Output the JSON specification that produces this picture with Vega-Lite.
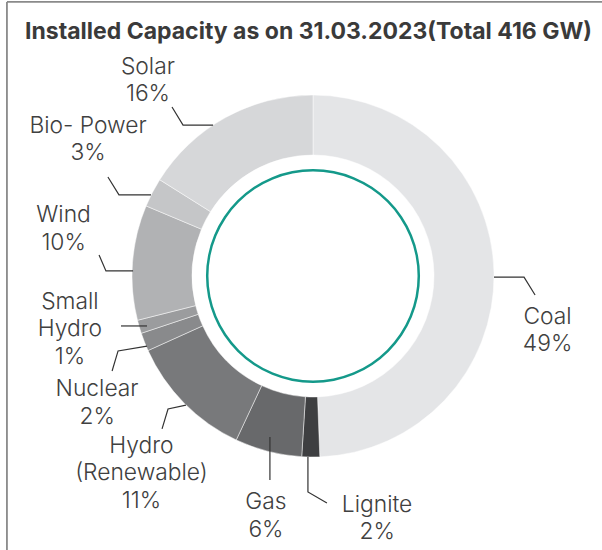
{
  "$schema": "https://vega.github.io/schema/vega-lite/v6.json",
  "width": 602,
  "height": 550,
  "autosize": {"type": "none"},
  "padding": 0,
  "background": "white",
  "config": {"view": {"stroke": null}, "font": "Inter"},
  "title": {
    "text": "Installed Capacity as on 31.03.2023(Total 416 GW)",
    "font": "Inter",
    "fontSize": 23,
    "fontWeight": "bold",
    "color": "#3a3a3a",
    "anchor": "middle",
    "frame": "group",
    "offset": 0,
    "baseline": "alphabetic",
    "dx": 7.5,
    "dy": 62
  },
  "datasets": {
    "capacity": [
      {"source": "Coal", "gw": 205.24, "order": 1},
      {"source": "Lignite", "gw": 6.62, "order": 2},
      {"source": "Gas", "gw": 24.82, "order": 3},
      {"source": "Hydro (Renewable)", "gw": 46.85, "order": 4},
      {"source": "Nuclear", "gw": 6.78, "order": 5},
      {"source": "Small Hydro", "gw": 4.94, "order": 6},
      {"source": "Wind", "gw": 42.63, "order": 7},
      {"source": "Bio- Power", "gw": 10.8, "order": 8},
      {"source": "Solar", "gw": 66.78, "order": 9}
    ],
    "labels": [
      {"source": "Coal", "label": "Coal\n49%", "x": 129.6, "y": -22.4},
      {"source": "Lignite", "label": "Lignite\n2%", "x": 35.4, "y": -126.5},
      {"source": "Gas", "label": "Gas\n6%", "x": -26.0, "y": -124.9},
      {"source": "Hydro (Renewable)", "label": "Hydro\n(Renewable)\n11%", "x": -94.8, "y": -93.9},
      {"source": "Nuclear", "label": "Nuclear\n2%", "x": -119.3, "y": -62.7},
      {"source": "Small Hydro", "label": "Small\nHydro\n1%", "x": -134.3, "y": -14.1},
      {"source": "Wind", "label": "Wind\n10%", "x": -137.8, "y": 33.7},
      {"source": "Bio- Power", "label": "Bio- Power\n3%", "x": -124.3, "y": 82.9},
      {"source": "Solar", "label": "Solar\n16%", "x": -91.2, "y": 115.5}
    ],
    "leaders": [
      {"source": "Solar", "i": 0, "x": -77.9, "y": 93.4},
      {"source": "Solar", "i": 1, "x": -71.8, "y": 83.4},
      {"source": "Solar", "i": 2, "x": -55.2, "y": 83.4},
      {"source": "Bio- Power", "i": 0, "x": -113.3, "y": 54.7},
      {"source": "Bio- Power", "i": 1, "x": -107.2, "y": 44.8},
      {"source": "Bio- Power", "i": 2, "x": -89.5, "y": 44.8},
      {"source": "Wind", "i": 0, "x": -118.2, "y": 11.6},
      {"source": "Wind", "i": 1, "x": -114.4, "y": 2.8},
      {"source": "Wind", "i": 2, "x": -99.4, "y": 2.8},
      {"source": "Small Hydro", "i": 0, "x": -106.1, "y": -27.6},
      {"source": "Small Hydro", "i": 1, "x": -91.7, "y": -27.6},
      {"source": "Nuclear", "i": 0, "x": -111.0, "y": -52.5},
      {"source": "Nuclear", "i": 1, "x": -107.7, "y": -41.4},
      {"source": "Nuclear", "i": 2, "x": -91.7, "y": -38.7},
      {"source": "Hydro (Renewable)", "i": 0, "x": -83.4, "y": -84.5},
      {"source": "Hydro (Renewable)", "i": 1, "x": -80.1, "y": -73.5},
      {"source": "Hydro (Renewable)", "i": 2, "x": -70.2, "y": -71.3},
      {"source": "Gas", "i": 0, "x": -23.8, "y": -112.7},
      {"source": "Gas", "i": 1, "x": -23.8, "y": -89.0},
      {"source": "Lignite", "i": 0, "x": 7.7, "y": -125.4},
      {"source": "Lignite", "i": 1, "x": -2.8, "y": -119.3},
      {"source": "Lignite", "i": 2, "x": -2.8, "y": -100.0},
      {"source": "Coal", "i": 0, "x": 100.0, "y": -0.6},
      {"source": "Coal", "i": 1, "x": 116.6, "y": -0.6},
      {"source": "Coal", "i": 2, "x": 122.7, "y": -10.5}
    ],
    "frame": [
      {"side": "left", "x": -169.1, "x2": -169.1, "y": 151.4, "y2": -151.38},
      {"side": "top", "x": -169.1, "x2": 159.67, "y": 151.4, "y2": 151.4}
    ]
  },
  "layer": [
    {
      "data": {"name": "frame"},
      "mark": {"type": "rule", "color": "#8a8a8a", "strokeWidth": 1.8},
      "encoding": {
        "x": {"field": "x", "type": "quantitative", "scale": {"domain": [-172.93, 159.67], "nice": false, "zero": false}, "axis": null},
        "x2": {"field": "x2"},
        "y": {"field": "y", "type": "quantitative", "scale": {"domain": [-151.38, 152.49], "nice": false, "zero": false}, "axis": null},
        "y2": {"field": "y2"}
      }
    },
    {
      "data": {"name": "capacity"},
      "mark": {"type": "arc", "outerRadius": 181, "innerRadius": 121, "stroke": "#ffffff", "strokeWidth": 0.8, "strokeOpacity": 0.6},
      "encoding": {
        "theta": {"field": "gw", "type": "quantitative", "stack": true},
        "order": {"field": "order", "type": "quantitative"},
        "color": {
          "field": "source",
          "type": "nominal",
          "legend": null,
          "scale": {
            "domain": ["Coal", "Lignite", "Gas", "Hydro (Renewable)", "Nuclear", "Small Hydro", "Wind", "Bio- Power", "Solar"],
            "range": ["#e4e5e7", "#3e3f41", "#68696b", "#78797b", "#898a8c", "#9b9c9e", "#b1b2b4", "#c5c6c8", "#d6d7d9"]
          }
        },
        "x": {"datum": 0, "type": "quantitative", "scale": {"domain": [-172.93, 159.67], "nice": false, "zero": false}, "axis": null},
        "y": {"datum": 0, "type": "quantitative", "scale": {"domain": [-151.38, 152.49], "nice": false, "zero": false}, "axis": null}
      }
    },
    {
      "data": {"values": [{"ring": "inner"}]},
      "mark": {"type": "arc", "theta": 0, "theta2": 6.2832, "outerRadius": 107, "innerRadius": 104.5, "fill": "#14998a"},
      "encoding": {
        "x": {"datum": 0, "type": "quantitative", "scale": {"domain": [-172.93, 159.67], "nice": false, "zero": false}, "axis": null},
        "y": {"datum": 0, "type": "quantitative", "scale": {"domain": [-151.38, 152.49], "nice": false, "zero": false}, "axis": null}
      }
    },
    {
      "data": {"name": "leaders"},
      "mark": {"type": "line", "color": "#333333", "strokeWidth": 1.2},
      "encoding": {
        "x": {"field": "x", "type": "quantitative", "scale": {"domain": [-172.93, 159.67], "nice": false, "zero": false}, "axis": null},
        "y": {"field": "y", "type": "quantitative", "scale": {"domain": [-151.38, 152.49], "nice": false, "zero": false}, "axis": null},
        "detail": {"field": "source", "type": "nominal"},
        "order": {"field": "i", "type": "quantitative"}
      }
    },
    {
      "data": {"name": "labels"},
      "mark": {"type": "text", "align": "center", "baseline": "middle", "fontSize": 22.8, "fontWeight": 300, "lineHeight": 27.5, "lineBreak": "\n", "color": "#404040", "font": "Inter"},
      "encoding": {
        "x": {"field": "x", "type": "quantitative", "scale": {"domain": [-172.93, 159.67], "nice": false, "zero": false}, "axis": null},
        "y": {"field": "y", "type": "quantitative", "scale": {"domain": [-151.38, 152.49], "nice": false, "zero": false}, "axis": null},
        "text": {"field": "label", "type": "nominal"}
      }
    }
  ]
}
